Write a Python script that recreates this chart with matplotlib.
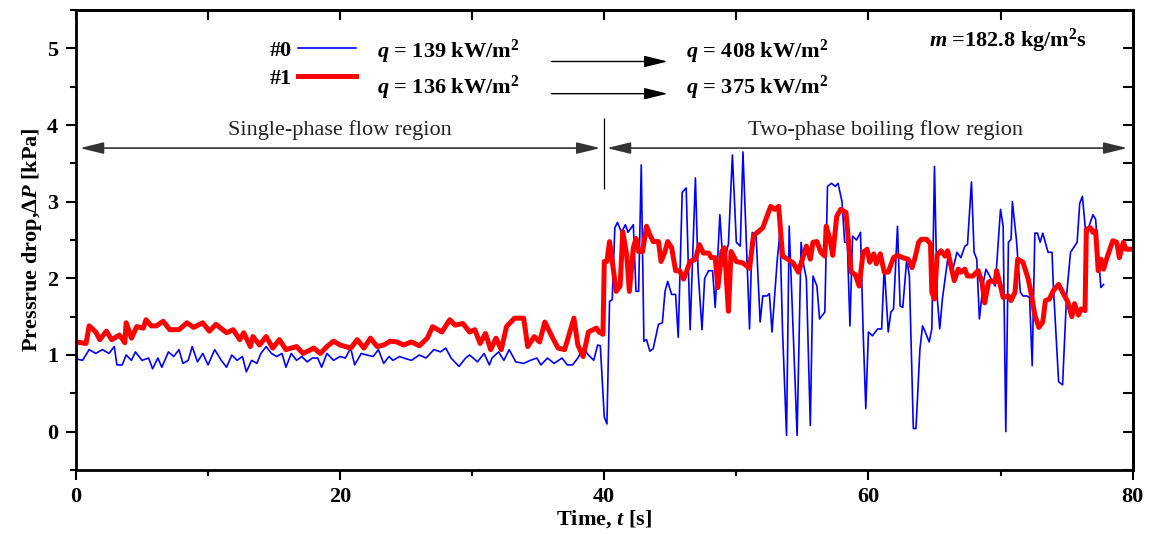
import matplotlib
matplotlib.use('Agg')
import matplotlib.pyplot as plt
from matplotlib.ticker import MultipleLocator

# blue trace (#0), single-phase part then two-phase part
blue_t = [0, 0.5, 1, 1.5, 2, 2.5, 2.9, 3.1, 3.5, 3.8,
          4.2, 4.5, 5, 5.5, 5.8, 6.2, 6.5, 7, 7.4, 7.8,
          8.1, 8.5, 8.8, 9.2, 9.6, 10.0, 10.5, 11, 11.4, 11.8,
          12.2, 12.6, 12.9, 13.3, 13.7, 14.0, 14.4, 14.8, 15.2, 15.6,
          15.9, 16.3, 16.7, 17.1, 17.5, 17.9, 18.3, 18.6, 19.0, 19.5,
          20.0, 20.4, 20.8, 21.1, 21.6, 22.0, 22.5, 22.9, 23.3, 23.7,
          24.0, 24.5, 25.0, 25.4, 26.0, 26.5, 27.1, 27.6, 28.0, 28.4,
          29.0, 29.5, 29.8, 30.4, 30.9, 31.3, 31.5, 32.0, 32.4, 32.8,
          33.3, 33.9, 34.4, 34.9, 35.2, 35.7, 36.2, 36.8, 37.2, 37.6,
          38.0, 38.4, 38.8, 39.2, 39.5, 39.7,
          40.0, 40.2, 40.4, 40.6, 40.8, 41.0, 41.3, 41.6, 41.8, 42.2,
          42.4, 42.6, 42.8, 43.0, 43.2, 43.45, 43.7, 44.1, 44.4, 44.6,
          44.8, 45.1, 45.4, 45.6, 45.9, 46.2, 46.5, 46.9, 47.1, 47.4,
          47.6, 47.9, 48.2, 48.4, 48.75, 49.0, 49.4, 49.7, 50.0, 50.3,
          50.5, 50.8, 51.0, 51.2, 51.5, 51.8, 52.0, 52.3, 52.5, 52.7,
          53.1, 53.3, 53.5, 53.8, 54.0, 54.3, 54.6, 54.9, 55.1, 55.3,
          55.6, 55.8, 56.1, 56.3, 56.7, 56.9, 57.2, 57.5, 57.7, 58.0,
          58.2, 58.4, 58.6, 58.8, 59.1, 59.4, 59.6, 59.8, 60.0, 60.3,
          60.7, 61.0, 61.2, 61.5, 61.7, 61.9, 62.2, 62.4, 62.6, 62.9,
          63.1, 63.4, 63.6, 63.9, 64.1, 64.3, 64.6, 64.8, 65.0, 65.2,
          65.4, 65.6, 66.0, 66.4, 66.7, 67.0, 67.3, 67.5, 67.8, 68.0,
          68.2, 68.4, 68.7, 68.9, 69.3, 69.6, 70.0, 70.2, 70.4, 70.6,
          70.8, 70.9, 71.2, 71.5, 71.7, 72.0, 72.2, 72.4, 72.6, 72.8,
          73.0, 73.2, 73.6, 73.9, 74.0, 74.4, 74.7, 75.0, 75.3, 75.8,
          76.0, 76.2, 76.5, 76.7, 77.0, 77.2, 77.6, 77.8]
blue_v = [0.95, 0.93, 1.07, 1.02, 1.07, 1.02, 1.11, 0.87, 0.87, 1.0,
          0.93, 1.04, 0.93, 0.96, 0.82, 0.96, 0.84, 1.04, 0.98, 1.07,
          0.89, 0.93, 1.11, 0.91, 1.02, 0.87, 1.07, 0.93, 0.84, 1.0,
          0.93, 0.98, 0.78, 0.93, 0.89, 1.02, 1.11, 1.02, 0.98, 1.02,
          0.84, 1.02, 0.93, 0.98, 0.91, 0.96, 0.96, 0.84, 1.02, 0.93,
          0.98, 0.96, 1.09, 0.87, 1.02, 1.0, 0.98, 1.07, 0.89, 0.98,
          0.93, 0.98, 0.95, 0.93, 1.0, 0.96, 1.07, 1.04, 1.09, 0.96,
          0.85, 0.96, 1.0, 0.91, 1.02, 0.87, 0.96, 1.04, 0.93, 1.07,
          0.91, 0.89, 0.93, 0.96, 0.87, 0.96, 0.89, 0.96, 0.87, 0.87,
          0.96, 1.09, 1.0, 0.93, 1.13, 1.12,
          0.19, 0.10, 1.7, 1.72, 2.66, 2.73, 2.6, 2.7, 2.6, 2.7,
          1.83, 1.83, 3.48, 1.18, 1.2, 1.05, 1.08, 1.4, 1.42, 1.83,
          1.96, 1.79, 1.79, 1.23, 3.12, 3.18, 1.33, 3.31, 2.1, 1.33,
          2.0, 2.1, 2.1, 1.62, 2.83, 2.16, 2.45, 3.61, 2.47, 2.42,
          3.65, 2.25, 1.34, 2.6, 2.55, 1.43, 1.77, 1.77, 1.8, 1.3,
          2.25, 2.6, 1.3, -0.05, 2.68, 1.3, -0.05, 2.47, 2.17, 2.0,
          0.08, 2.03, 1.9, 1.47, 1.56, 3.2, 3.24, 3.2, 3.24, 3.0,
          2.47, 2.47, 1.38, 2.55, 2.5, 2.6, 1.3, 0.3, 1.3, 1.25,
          1.34, 1.34, 2.16, 1.3, 1.56, 1.6, 2.68, 1.64, 1.62, 2.25,
          2.03, 0.04, 0.04, 1.08, 1.38, 1.3, 1.17, 1.34, 3.46, 1.77,
          1.34, 1.73, 2.25, 2.12, 2.34, 2.27, 2.42, 2.44, 3.26, 2.34,
          2.25, 1.47, 1.95, 2.12, 1.99, 1.9, 2.9, 2.68, 0.0, 2.47,
          2.51, 3.0, 2.51, 1.82, 1.77, 1.77, 1.75, 0.86, 2.59, 2.59,
          2.47, 2.59, 2.34, 2.34, 1.9, 0.65, 0.61, 1.77, 2.34, 2.47,
          2.98, 3.07, 2.51, 2.68, 2.83, 2.77, 1.88, 1.92]

# red trace (#1)
red_t = [0, 0.76, 1.0, 1.5, 1.8, 2.3, 2.7, 3.3, 3.7, 3.8,
         4.2, 4.6, 5.1, 5.3, 5.7, 6.1, 6.6, 7.1, 7.8, 8.4,
         8.9, 9.6, 10.1, 10.6, 11.4, 11.9, 12.4, 12.7, 13.2, 13.4,
         13.9, 14.4, 14.9, 15.4, 15.9, 16.7, 17.2, 18.0, 18.5, 19.0,
         19.5, 20.0, 20.8, 21.3, 21.8, 22.3, 22.8, 23.3, 23.8, 24.3,
         24.8, 25.4, 26.0, 26.6, 27.0, 27.7, 28.3, 28.7, 29.3, 29.8,
         30.2, 30.6, 31.0, 31.4, 31.8, 32.2, 32.6, 33.2, 33.9, 34.2,
         34.7, 35.1, 35.5, 36.1, 36.5, 37.0, 37.7, 38.0, 38.4, 38.8,
         39.4, 39.6, 39.9,
         40.0, 40.2, 40.4, 40.7, 40.9, 41.2, 41.4, 41.7, 41.9, 42.2,
         42.4, 42.6, 42.9, 43.2, 43.45, 43.7, 44.1, 44.3, 44.6, 44.8,
         45.1, 45.4, 45.7, 46.0, 46.2, 46.5, 46.9, 47.2, 47.5, 47.9,
         48.1, 48.4, 48.6, 48.9, 49.1, 49.4, 49.6, 50.0, 50.5, 51.0,
         51.3, 51.6, 52.0, 52.6, 52.9, 53.2, 53.5, 53.9, 54.3, 54.7,
         55.0, 55.3, 55.6, 55.8, 56.1, 56.4, 56.7, 56.8, 57.1, 57.3,
         57.6, 57.9, 58.3, 58.7, 59.0, 59.3, 59.6, 59.9, 60.1, 60.4,
         60.6, 60.9, 61.2, 61.5, 61.9, 62.2, 62.6, 63.0, 63.3, 63.5,
         63.8, 64.0, 64.4, 64.7, 64.8, 65.0, 65.2, 65.5, 65.8, 66.0,
         66.3, 66.5, 66.8, 67.0, 67.3, 67.5, 67.9, 68.3, 68.6, 68.8,
         69.1, 69.3, 69.6, 69.7, 70.0, 70.2, 70.6, 70.8, 71.1, 71.3,
         71.7, 72.1, 72.3, 72.6, 72.9, 73.2, 73.4, 73.7, 74.0, 74.4,
         74.7, 75.1, 75.4, 75.6, 75.9, 76.1, 76.4, 76.5, 76.8, 77.0,
         77.2, 77.4, 77.6, 77.8, 78.1, 78.5, 78.8, 79.0, 79.3, 79.5,
         80.0]
red_v = [1.17, 1.15, 1.38, 1.30, 1.2, 1.31, 1.2, 1.26, 1.16, 1.42,
         1.22, 1.37, 1.35, 1.46, 1.38, 1.38, 1.44, 1.33, 1.33, 1.42,
         1.36, 1.42, 1.31, 1.4, 1.29, 1.33, 1.2, 1.29, 1.11, 1.24,
         1.13, 1.24, 1.09, 1.2, 1.07, 1.11, 1.02, 1.09, 1.02, 1.11,
         1.18, 1.13, 1.09, 1.2, 1.09, 1.22, 1.11, 1.13, 1.18, 1.17,
         1.13, 1.17, 1.12, 1.22, 1.37, 1.30, 1.46, 1.39, 1.41, 1.30,
         1.33, 1.15, 1.28, 1.07, 1.22, 1.07, 1.37, 1.48, 1.48, 1.11,
         1.24, 1.17, 1.43, 1.22, 1.09, 1.07, 1.48, 1.13, 0.98, 1.30,
         1.35, 1.30, 1.27,
         2.22, 2.22, 2.48, 2.1, 1.83, 1.9, 2.61, 2.3, 1.83, 2.4,
         2.52, 2.35, 2.35, 2.68, 2.57, 2.48, 2.48, 2.22, 2.35, 2.48,
         2.4, 2.1, 2.1, 1.99, 2.08, 2.22, 2.25, 2.44, 2.33, 2.33,
         2.27, 2.27, 1.88, 2.35, 2.4, 1.57, 2.35, 2.22, 2.2, 2.13,
         2.56, 2.6, 2.66, 2.94, 2.9, 2.94, 2.29, 2.25, 2.2, 2.08,
         2.25, 2.42, 2.25, 2.47, 2.48, 2.34, 2.29, 2.68, 2.5, 2.3,
         2.81, 2.9, 2.86, 2.08, 2.05, 1.9, 2.34, 2.38, 2.21, 2.32,
         2.19, 2.32, 2.08, 2.08, 2.27, 2.3, 2.27, 2.25, 2.14, 2.25,
         2.47, 2.51, 2.51, 2.45, 1.82, 1.73, 2.3, 2.36, 2.29, 2.36,
         2.12, 1.97, 2.12, 2.08, 2.12, 2.03, 2.03, 2.1, 1.95, 1.68,
         1.95, 1.97, 1.95, 2.1, 1.9, 1.75, 1.77, 1.71, 1.82, 2.25,
         2.21, 1.99, 1.82, 1.52, 1.36, 1.43, 1.71, 1.73, 1.84, 1.92,
         1.82, 1.69, 1.5, 1.67, 1.52, 1.6, 1.58, 2.64, 2.66, 2.6,
         2.62, 2.1, 2.25, 2.12, 2.29, 2.49, 2.47, 2.27, 2.47, 2.38,
         2.38]

series_names = ['#0', '#1']
q_before = ['$q$ = 139 kW/m$^2$', '$q$ = 136 kW/m$^2$']
q_after = ['$q$ = 408 kW/m$^2$', '$q$ = 375 kW/m$^2$']
mass_flux = '$m$ =182.8 kg/m$^2$s'
regions = ['Single-phase flow region', 'Two-phase boiling flow region']

assert len(blue_t) == len(blue_v) and len(red_t) == len(red_v)

plt.rcParams['font.family'] = ['Liberation Serif', 'DejaVu Sans']
plt.rcParams['mathtext.fontset'] = 'custom'
plt.rcParams['mathtext.rm'] = 'Liberation Serif:bold'
plt.rcParams['mathtext.it'] = 'Liberation Serif:italic:bold'
plt.rcParams['mathtext.bf'] = 'Liberation Serif:bold'

fig = plt.figure(figsize=(11.51, 5.34), dpi=100)
ax = fig.add_axes([0.066, 0.12, 0.918, 0.861])

ax.plot(blue_t, blue_v, color='#0000ff', lw=1.2, label=series_names[0])
ax.plot(red_t, red_v, color='#ff0000', lw=3.6, label=series_names[1],
        solid_joinstyle='round')

ax.set_xlim(0, 80)
ax.set_ylim(-0.5, 5.5)
ax.xaxis.set_major_locator(MultipleLocator(20))
ax.xaxis.set_minor_locator(MultipleLocator(10))
ax.yaxis.set_major_locator(MultipleLocator(1))
ax.yaxis.set_minor_locator(MultipleLocator(0.5))
ax.tick_params(which='major', direction='out', length=7, width=1.5, labelsize=16)
ax.tick_params(axis='x', which='major', pad=5)
ax.tick_params(axis='y', which='major', pad=6)
ax.tick_params(which='minor', direction='out', length=4, width=1.5)
for lbl in ax.get_xticklabels() + ax.get_yticklabels():
    lbl.set_fontweight('bold')
for sp in ax.spines.values():
    sp.set_linewidth(2)

# inward ticks on top and right
top = ax.secondary_xaxis('top')
top.xaxis.set_major_locator(MultipleLocator(10))
top.tick_params(direction='in', length=7, width=1.5, labeltop=False)
top.spines['top'].set_linewidth(2)
right = ax.secondary_yaxis('right')
right.yaxis.set_major_locator(MultipleLocator(0.5))
right.tick_params(direction='in', length=7, width=1.5, labelright=False)
right.spines['right'].set_linewidth(2)

ax.set_ylabel('Pressrue drop,\u2206$P$ [kPa]', fontsize=16, fontweight='bold', labelpad=2)
ax.set_xlabel('Time, $t$ [s]', fontsize=16, fontweight='bold', labelpad=1)

ax.legend(loc='upper left', bbox_to_anchor=(0.183, 0.935), frameon=False,
          markerfirst=False, handlelength=2.6, handletextpad=0.3,
          labelspacing=0.35, borderpad=0, borderaxespad=0,
          prop={'family': 'Liberation Serif', 'weight': 'bold', 'size': 16})

rows = [4.95, 4.48]
arrow_rows = [4.83, 4.41]
for i in range(2):
    ax.text(22.8, rows[i], q_before[i], fontsize=16, fontweight='bold', va='center')
    ax.text(46.2, rows[i], q_after[i], fontsize=16, fontweight='bold', va='center')
    ax.annotate('', xy=(44.8, arrow_rows[i]), xytext=(36.0, arrow_rows[i]),
                arrowprops=dict(arrowstyle='-|>,head_length=0.9,head_width=0.22',
                                color='black', lw=1, mutation_scale=16,
                                shrinkA=0, shrinkB=0))
ax.text(64.6, 5.10, mass_flux, fontsize=16, fontweight='bold', va='center')

# region arrows
arrow_kw = dict(arrowstyle='<|-|>,head_length=0.9,head_width=0.22', color='#333333',
                lw=1.2, mutation_scale=16, shrinkA=0, shrinkB=0)
ax.annotate('', xy=(0.3, 3.70), xytext=(39.7, 3.70), arrowprops=arrow_kw)
ax.annotate('', xy=(40.2, 3.70), xytext=(79.6, 3.70), arrowprops=arrow_kw)
ax.vlines(40, 3.16, 4.09, color='black', lw=0.9)
ax.text(20.0, 3.94, regions[0], fontsize=16, ha='center', va='center', color='#222222')
ax.text(61.3, 3.94, regions[1], fontsize=16, ha='center', va='center', color='#222222')

fig.savefig('out.png', dpi=100)
